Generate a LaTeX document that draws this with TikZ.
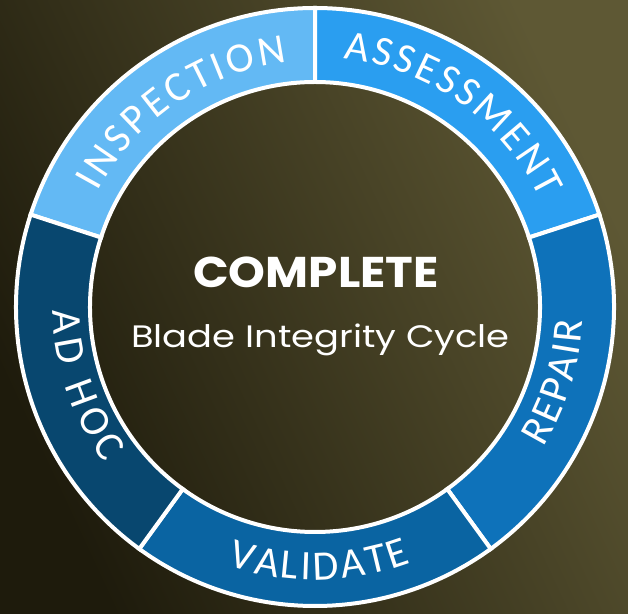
\documentclass[tikz,border=0pt]{standalone}
\usepackage{fontspec}
\setmainfont{Carlito}
\newfontfamily\centerfont{Poppins}
\usetikzlibrary{decorations.text}
\definecolor{bgdark}{HTML}{1E1B0C}
\definecolor{bgmid}{HTML}{332F1B}
\definecolor{bgolive}{HTML}{5E5834}
\definecolor{insp}{HTML}{63B9F4}
\definecolor{assess}{HTML}{2A9EF0}
\definecolor{repair}{HTML}{0E72BA}
\definecolor{validate}{HTML}{0A64A2}
\definecolor{adhoc}{HTML}{08476F}
\tikzset{
  sector/.style={draw=white, line width=4pt, line join=miter},
  ringtext/.style={decorate, decoration={text along path, text align=fit to path, text color=white}},
}
\newcommand{\ringfont}{\fontsize{42}{48}\selectfont}
\begin{document}
\begin{tikzpicture}[x=1pt,y=1pt]
\useasboundingbox (0,0) rectangle (628,613);
\shade[top color=bgolive, middle color=bgmid, bottom color=bgdark, shading angle=-65] (0,0) rectangle (628,613);
\coordinate (c) at (315,306);
% sectors
\path[sector, fill=insp] ([shift={(c)}]162:299) arc[start angle=162, end angle=90, radius=299] -- ([shift={(c)}]90:225) arc[start angle=90, end angle=162, radius=225] -- cycle;
\path[sector, fill=assess] ([shift={(c)}]90:299) arc[start angle=90, end angle=18, radius=299] -- ([shift={(c)}]18:225) arc[start angle=18, end angle=90, radius=225] -- cycle;
\path[sector, fill=repair] ([shift={(c)}]18:299) arc[start angle=18, end angle=-54, radius=299] -- ([shift={(c)}]-54:225) arc[start angle=-54, end angle=18, radius=225] -- cycle;
\path[sector, fill=validate] ([shift={(c)}]-54:299) arc[start angle=-54, end angle=-126, radius=299] -- ([shift={(c)}]-126:225) arc[start angle=-126, end angle=-54, radius=225] -- cycle;
\path[sector, fill=adhoc] ([shift={(c)}]-126:299) arc[start angle=-126, end angle=-198, radius=299] -- ([shift={(c)}]-198:225) arc[start angle=-198, end angle=-126, radius=225] -- cycle;
% ring texts
\path[ringtext, decoration={text={|\ringfont|INSPECTION}}] ([shift={(c)}]152:246) arc[start angle=152, end angle=96.5, radius=246];
\path[ringtext, decoration={text={|\ringfont|ASSESSMENT}}] ([shift={(c)}]83.5:250) arc[start angle=83.5, end angle=25.8, radius=250];
\path[ringtext, decoration={text={|\ringfont|REPAIR}}] ([shift={(c)}]-31.5:268) arc[start angle=-31.5, end angle=-3, radius=268];
\path[ringtext, decoration={text={|\ringfont|VALIDATE}}] ([shift={(c)}]-108.7:273) arc[start angle=-108.7, end angle=-69.4, radius=273];
\path[ringtext, decoration={text={|\ringfont|AD HOC}}] ([shift={(c)}]180.7:262) arc[start angle=180.7, end angle=216.6, radius=262];
% center texts
\node[text=white, font=\centerfont\bfseries\fontsize{43}{50}\selectfont, anchor=base, inner sep=0] (title) at (316,325) {\scalebox{1.09}[1]{COMPLETE}};
\node[text=white, font=\centerfont\fontsize{31}{36}\selectfont, anchor=base, inner sep=0] (subtitle) at (320.5,265) {\scalebox{1.19}[1]{Blade Integrity Cycle}};
\end{tikzpicture}
\end{document}
